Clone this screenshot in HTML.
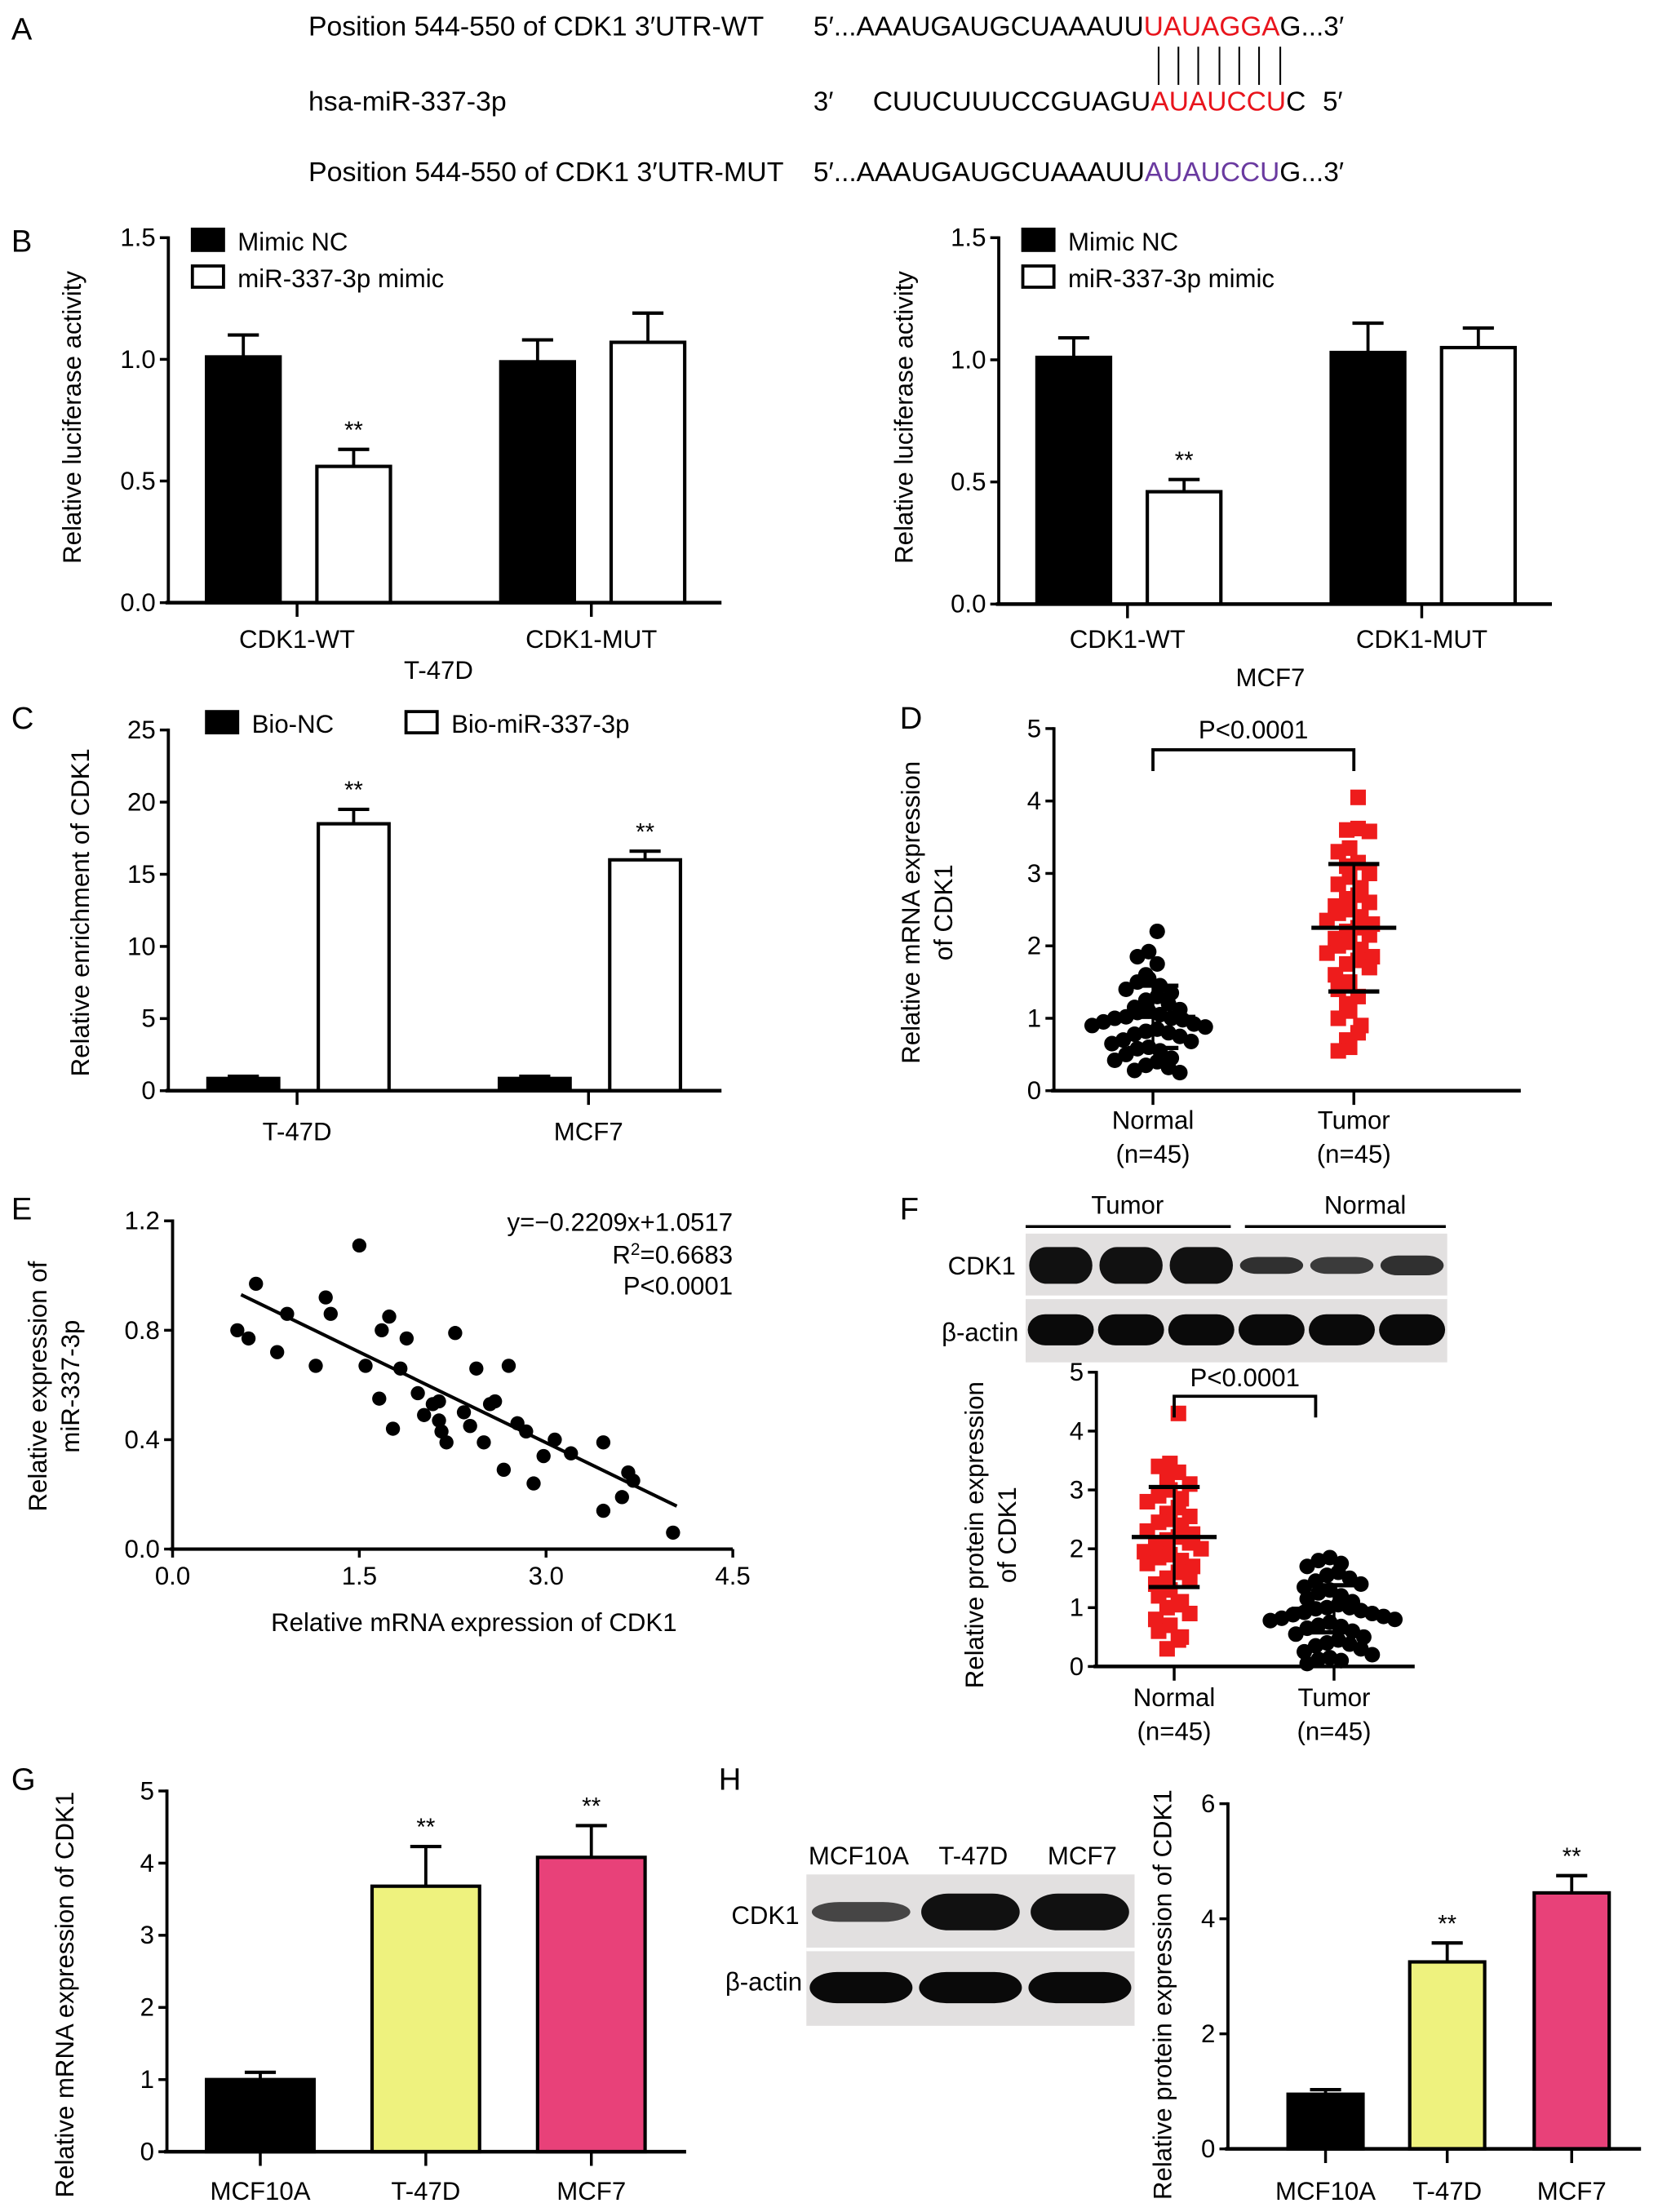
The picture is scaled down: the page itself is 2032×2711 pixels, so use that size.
<!DOCTYPE html>
<html><head><meta charset="utf-8">
<style>
html,body{margin:0;padding:0;background:#fff;}
svg{display:block;font-family:"Liberation Sans",sans-serif;}
</style></head>
<body>
<svg id="fig" xmlns="http://www.w3.org/2000/svg" width="2032" height="2711" viewBox="0 0 1172 1563.6">
<rect x="0" y="0" width="1172" height="1564" fill="#fff"/>
<!-- Panel A -->
<g font-size="19">
<text x="8" y="28" font-size="22">A</text>
<text x="218" y="25" textLength="322" lengthAdjust="spacingAndGlyphs">Position 544-550 of CDK1 3′UTR-WT</text>
<text x="575" y="25" textLength="375" lengthAdjust="spacingAndGlyphs">5′...AAAUGAUGCUAAAUU<tspan fill="#e8141c">UAUAGGA</tspan>G...3′</text>
<g stroke="#000" stroke-width="1.2">
<line x1="819" y1="33" x2="819" y2="60"/><line x1="833" y1="33" x2="833" y2="60"/><line x1="847" y1="33" x2="847" y2="60"/><line x1="862" y1="33" x2="862" y2="60"/><line x1="876" y1="33" x2="876" y2="60"/><line x1="890" y1="33" x2="890" y2="60"/><line x1="905" y1="33" x2="905" y2="60"/>
</g>
<text x="218" y="78" textLength="140" lengthAdjust="spacingAndGlyphs">hsa-miR-337-3p</text>
<text x="575" y="78">3′</text>
<text x="617" y="78" textLength="306" lengthAdjust="spacingAndGlyphs">CUUCUUUCCGUAGU<tspan fill="#e8141c">AUAUCCU</tspan>C</text>
<text x="935" y="78">5′</text>
<text x="218" y="128" textLength="336" lengthAdjust="spacingAndGlyphs">Position 544-550 of CDK1 3′UTR-MUT</text>
<text x="575" y="128" textLength="375" lengthAdjust="spacingAndGlyphs">5′...AAAUGAUGCUAAAUU<tspan fill="#6a3aa0">AUAUCCU</tspan>G...3′</text>
</g>
<g id="charts"></g>
</svg>
<script>
// ---- data ----
const bCategories = ['CDK1-WT','CDK1-MUT'];
const bT47dNC = [1.01, 0.99];
const bT47dNCErr = [0.09, 0.09];
const bT47dMimic = [0.56, 1.07];
const bT47dMimicErr = [0.07, 0.12];
const bMcf7NC = [1.01, 1.03];
const bMcf7NCErr = [0.08, 0.12];
const bMcf7Mimic = [0.46, 1.05];
const bMcf7MimicErr = [0.05, 0.08];
const bTicks = ['0.0','0.5','1.0','1.5'];
const cCategories = ['T-47D','MCF7'];
const cBioNC = [0.85, 0.85];
const cBioNCErr = [0.15, 0.15];
const cBioMir = [18.5, 16.0];
const cBioMirErr = [1.0, 0.6];
const cTicks = [0,5,10,15,20,25];
const dNormal = [2.2,1.92,1.85,1.75,1.6,1.55,1.5,1.45,1.4,1.35,1.3,1.25,1.2,1.15,1.12,1.1,1.08,1.05,1.02,1.0,1.0,0.98,0.95,0.92,0.9,0.88,0.85,0.82,0.8,0.78,0.75,0.7,0.68,0.65,0.6,0.58,0.55,0.5,0.45,0.42,0.4,0.35,0.32,0.28,0.25];
const dTumor = [4.05,3.62,3.6,3.58,3.35,3.3,3.15,3.1,3.0,2.95,2.85,2.8,2.7,2.65,2.6,2.55,2.5,2.45,2.4,2.35,2.3,2.25,2.2,2.15,2.1,2.05,2.0,1.95,1.9,1.85,1.8,1.75,1.7,1.6,1.5,1.4,1.3,1.2,1.1,1.0,0.9,0.8,0.7,0.6,0.55];
const dMeanSD = [[1.02,0.43],[2.25,0.88]];
const dTicks = [0,1,2,3,4,5];
const eX = [0.52,0.61,0.67,0.84,0.92,1.15,1.23,1.27,1.5,1.55,1.66,1.68,1.74,1.77,1.88,2.02,2.09,2.14,2.16,2.2,2.27,2.34,2.39,2.44,2.5,2.55,2.59,2.66,2.7,2.77,2.84,2.9,2.98,3.07,3.2,3.46,3.46,3.61,3.66,3.7,4.02,2.14,1.97,1.83];
const eY = [0.80,0.77,0.97,0.72,0.86,0.67,0.92,0.86,1.11,0.67,0.55,0.80,0.85,0.44,0.77,0.49,0.53,0.54,0.43,0.39,0.79,0.50,0.45,0.66,0.39,0.53,0.54,0.29,0.67,0.46,0.43,0.24,0.34,0.40,0.35,0.39,0.14,0.19,0.28,0.25,0.06,0.47,0.57,0.66];
const eSlope = -0.2209, eIntercept = 1.0517;
const eXTicks = ['0.0','1.5','3.0','4.5'];
const eYTicks = ['0.0','0.4','0.8','1.2'];
const fNormal = [4.3,3.45,3.4,3.3,3.2,3.1,3.0,2.9,2.85,2.8,2.7,2.6,2.55,2.5,2.45,2.4,2.3,2.25,2.2,2.15,2.1,2.05,2.0,1.95,1.9,1.85,1.8,1.75,1.7,1.6,1.5,1.45,1.4,1.3,1.2,1.1,1.05,1.0,0.9,0.8,0.7,0.6,0.5,0.45,0.3];
const fTumor = [1.85,1.8,1.75,1.7,1.6,1.55,1.5,1.45,1.4,1.35,1.3,1.25,1.2,1.15,1.1,1.05,1.0,1.0,0.98,0.95,0.92,0.9,0.88,0.85,0.82,0.8,0.78,0.75,0.7,0.68,0.65,0.6,0.55,0.5,0.45,0.4,0.38,0.35,0.3,0.25,0.2,0.15,0.12,0.1,0.05];
const fMeanSD = [[2.2,0.85],[0.98,0.4]];
const gCategories = ['MCF10A','T-47D','MCF7'];
const gValues = [1.0, 3.68, 4.08];
const gErr = [0.1, 0.55, 0.44];
const gTicks = [0,1,2,3,4,5];
const hValues = [0.95, 3.25, 4.45];
const hErr = [0.08, 0.33, 0.3];
const hTicks = [0,2,4,6];
const barColors = ['#000','#eef27e','#e84179'];

// ---- helpers ----
const NS = 'http://www.w3.org/2000/svg';
const root = document.getElementById('charts');
function el(tag, attrs, parent, txt){
  const e = document.createElementNS(NS, tag);
  for (const k in attrs) e.setAttribute(k, attrs[k]);
  if (txt !== undefined) e.textContent = txt;
  (parent || root).appendChild(e);
  return e;
}
function group(name){
  const g = el('g', {});
  
  
  return g;
}
function yAxis(g, ax, y0, yTop, vmax, ticks, labels){
  const l = el('line', {x1:ax, y1:y0, x2:ax, y2:yTop-1, stroke:'#000','stroke-width':2.2}, g);
  
  
  ticks.forEach((t,i)=>{
    const y = y0 - t/vmax*(y0-yTop);
    const tk = el('line', {x1:ax-6, y1:y, x2:ax, y2:y, stroke:'#000','stroke-width':2}, g);
    
    
    const tx = el('text', {x:ax-9, y:y+6, 'text-anchor':'end', 'font-size':18}, g, labels ? labels[i] : String(t));
    
    
  });
}
function xAxis(g, ax, xEnd, y0, centers, labels, ly){
  const l = el('line', {x1:ax-2, y1:y0, x2:xEnd, y2:y0, stroke:'#000','stroke-width':2.6}, g);
  
  
  centers.forEach((c,i)=>{
    const tk = el('line', {x1:c, y1:y0, x2:c, y2:y0+10, stroke:'#000','stroke-width':2}, g);
    
    
    if (labels){
      const tx = el('text', {x:c, y:ly, 'text-anchor':'middle', 'font-size':18}, g, labels[i]);
      
      
    }
  });
}
function yTitle(g, x, cy, lines){
  lines.forEach((s,i)=>{
    const t = el('text', {x:x+i*23, y:cy, 'text-anchor':'middle', 'font-size':18, transform:`rotate(-90 ${x+i*23} ${cy})`}, g, s);
    
    
  });
}
function bar(g, cx, w, v, err, y0, yTop, vmax, fill, star){
  const sc = v => y0 - v/vmax*(y0-yTop);
  const top = sc(v), et = sc(v+err);
  const ebar = el('line', {x1:cx, y1:top, x2:cx, y2:et, stroke:'#000','stroke-width':2.2}, g);
  
  
  const cap = el('line', {x1:cx-11, y1:et, x2:cx+11, y2:et, stroke:'#000','stroke-width':2.4}, g);
  
  
  const r = el('rect', {x:cx-w/2, y:top, width:w, height:y0-top, fill:fill, stroke:'#000','stroke-width':2.4}, g);
  
  
  if (star){
    const s = el('text', {x:cx, y:et-8, 'text-anchor':'middle', 'font-size':17}, g, '**');
    
    
  }
}
function legendItem(g, x, y, fill, label){
  const r = el('rect', {x:x, y:y, width:22, height:15, fill:fill, stroke:'#000','stroke-width':2.2}, g);
  
  
  const t = el('text', {x:x+32, y:y+15, 'font-size':18}, g, label);
  
  
}
function label(g, x, y, s, size, anchor){
  const t = el('text', {x:x, y:y, 'font-size':size||18, 'text-anchor':anchor||'start'}, g, s);
  
  
  return t;
}

// ---- Panel B ----
function panelB(name, ax, y0, centers, nc, ncErr, mm, mmErr, cell, cellX, cellY, ytx){
  const g = group(name);
  const yTop = 168;
  yAxis(g, ax, y0, yTop, 1.5, [0,0.5,1,1.5], bTicks);
  centers.forEach((c,i)=>{
    bar(g, c-38, 52, nc[i], ncErr[i], y0, yTop, 1.5, '#000', false);
    bar(g, c+40, 52, mm[i], mmErr[i], y0, yTop, 1.5, '#fff', i===0);
  });
  xAxis(g, ax, ax+391, y0, centers, bCategories, 458);
  label(g, cellX, cellY, cell, 18, 'middle');
  legendItem(g, ax+17, 162, '#000', 'Mimic NC');
  legendItem(g, ax+17, 188, '#fff', 'miR-337-3p mimic');
  yTitle(g, ytx, 295, ['Relative luciferase activity']);
}
const gl = group('panel-label-b'); label(gl, 8, 178, 'B', 22);
panelB('panel-b-t47d', 119, 426, [210,418], bT47dNC, bT47dNCErr, bT47dMimic, bT47dMimicErr, 'T-47D', 310, 480, 57);
panelB('panel-b-mcf7', 706, 427, [797,1005], bMcf7NC, bMcf7NCErr, bMcf7Mimic, bMcf7MimicErr, 'MCF7', 898, 485, 645);

// ---- Panel C ----
(function(){
  const g = group('panel-c');
  label(g, 8, 515, 'C', 22);
  const ax=119, y0=771, yTop=516;
  yAxis(g, ax, y0, yTop, 25, cTicks);
  const centers=[210,416];
  centers.forEach((c,i)=>{
    bar(g, c-38, 50, cBioNC[i], cBioNCErr[i], y0, yTop, 25, '#000', false);
    bar(g, c+40, 50, cBioMir[i], cBioMirErr[i], y0, yTop, 25, '#fff', true);
  });
  xAxis(g, ax, 510, y0, centers, cCategories, 806);
  legendItem(g, 146, 503, '#000', 'Bio-NC');
  legendItem(g, 287, 503, '#fff', 'Bio-miR-337-3p');
  yTitle(g, 63, 645, ['Relative enrichment of CDK1']);
})();

// ---- scatter helper ----
function swarm(g, vals, cx, y0, yTop, vmax, shape, color){
  const sc = v => y0 - v/vmax*(y0-yTop);
  const bins = {};
  vals.forEach(v=>{
    const b = Math.round(sc(v)/12);
    bins[b] = (bins[b]||0)+1;
    const k = bins[b]-1;
    const off = (k%2===0 ? 1 : -1) * Math.ceil(k/2) * 8 + ((b%2)?3:-3);
    const y = sc(v);
    let m;
    if (shape==='circle') m = el('circle', {cx:cx+off, cy:y, r:5.5, fill:color}, g);
    else m = el('rect', {x:cx+off-5.5, y:y-5.5, width:11, height:11, fill:color}, g);
    
    
  });
}
function meanSD(g, cx, ms, y0, yTop, vmax){
  const sc = v => y0 - v/vmax*(y0-yTop);
  const [m,s] = ms;
  const v = el('line', {x1:cx, y1:sc(m+s), x2:cx, y2:sc(m-s), stroke:'#000','stroke-width':2}, g);
  
  
  [[m+s,18],[m,30],[m-s,18]].forEach(([val,hw])=>{
    const l = el('line', {x1:cx-hw, y1:sc(val), x2:cx+hw, y2:sc(val), stroke:'#000','stroke-width':3}, g);
    
    
  });
}
function bracket(g, x1, x2, y, txt, ty){
  const p = el('path', {d:`M${x1} ${y+15} V${y} H${x2} V${y+15}`, fill:'none', stroke:'#000','stroke-width':2.2}, g);
  
  
  label(g, (x1+x2)/2, ty, txt, 18, 'middle');
}

// ---- Panel D ----
(function(){
  const g = group('panel-d');
  label(g, 636, 515, 'D', 22);
  const ax=745, y0=771, yTop=515;
  yAxis(g, ax, y0, yTop, 5, dTicks);
  swarm(g, dNormal, 815, y0, yTop, 5, 'circle', '#000');
  swarm(g, dTumor, 957, y0, yTop, 5, 'square', '#ee1c1c');
  meanSD(g, 815, dMeanSD[0], y0, yTop, 5);
  meanSD(g, 957, dMeanSD[1], y0, yTop, 5);
  xAxis(g, ax, 1075, y0, [815,957], ['Normal','Tumor'], 798);
  label(g, 815, 822, '(n=45)', 18, 'middle');
  label(g, 957, 822, '(n=45)', 18, 'middle');
  bracket(g, 815, 957, 530, 'P<0.0001', 522);
  yTitle(g, 650, 645, ['Relative mRNA expression','of CDK1']);
})();

// ---- Panel E ----
(function(){
  const g = group('panel-e');
  label(g, 8, 862, 'E', 22);
  const ax=122, y0=1095, xEnd=518, yTop=863;
  const sx = v => ax + v/4.5*(xEnd-ax);
  const sy = v => y0 - v/1.2*(y0-yTop);
  yAxis(g, ax, y0, yTop, 1.2, [0,0.4,0.8,1.2], eYTicks);
  const xl = el('line', {x1:ax-2, y1:y0, x2:xEnd, y2:y0, stroke:'#000','stroke-width':2.4}, g);
  
  
  [0,1.5,3,4.5].forEach((t,i)=>{
    const tk = el('line', {x1:sx(t), y1:y0, x2:sx(t), y2:y0+6, stroke:'#000','stroke-width':2}, g);
    
    
    label(g, sx(t), y0+25, eXTicks[i], 18, 'middle');
  });
  eX.forEach((x,i)=>{
    const c = el('circle', {cx:sx(x), cy:sy(eY[i]), r:5, fill:'#000'}, g);
    
    
  });
  const x1=0.55, x2=4.05;
  const rl = el('line', {x1:sx(x1), y1:sy(eSlope*x1+eIntercept), x2:sx(x2), y2:sy(eSlope*x2+eIntercept), stroke:'#000','stroke-width':2.4}, g);
  
  
  label(g, 518, 870, 'y=−0.2209x+1.0517', 18, 'end');
  const r2 = label(g, 518, 893, 'R', 18, 'end');
  r2.innerHTML = 'R<tspan dy="-6" font-size="12">2</tspan><tspan dy="6">=0.6683</tspan>';
  label(g, 518, 915, 'P<0.0001', 18, 'end');
  label(g, 335, 1153, 'Relative mRNA expression of CDK1', 18, 'middle');
  yTitle(g, 33, 980, ['Relative expression of','miR-337-3p']);
})();

// ---- blot helper ----
function blot(g, x, y, w, h, sep, lanes, strengths, name){
  const b = el('rect', {x:x, y:y, width:w, height:h, fill:'#e2e0e0'}, g);
  
  
  const s = el('line', {x1:x, y1:sep, x2:x+w, y2:sep, stroke:'#fff','stroke-width':2.5}, g);
  
  
  const lw = w/lanes;
  for (let i=0;i<lanes;i++){
    const cx = x+lw*(i+0.5);
    const st = strengths[i];
    const top = el('rect', {x:cx-lw*0.45, y:(y+sep)/2-st[0], width:lw*0.9, height:2*st[0], rx:lw*0.25, ry:st[0], fill:'#111', opacity:st[1]}, g);
    
    
    const bot = el('rect', {x:cx-lw*0.47, y:(sep+y+h)/2-11, width:lw*0.94, height:22, rx:lw*0.25, ry:11, fill:'#0a0a0a'}, g);
    
    
  }
}

// ---- Panel F ----
(function(){
  const g = group('panel-f');
  label(g, 636, 862, 'F', 22);
  label(g, 797, 858, 'Tumor', 18, 'middle');
  label(g, 965, 858, 'Normal', 18, 'middle');
  const l1 = el('line', {x1:725, y1:867, x2:870, y2:867, stroke:'#000','stroke-width':2}, g);
   
  const l2 = el('line', {x1:880, y1:867, x2:1022, y2:867, stroke:'#000','stroke-width':2}, g);
   
  blot(g, 725, 872, 298, 91, 917, 6, [[13,1],[13,1],[13,1],[6,0.85],[6,0.8],[7,0.85]], 'western-blot-f');
  label(g, 718, 901, 'CDK1', 18, 'end');
  label(g, 720, 948, 'β-actin', 18, 'end');
  const ax=775, y0=1178, yTop=970;
  yAxis(g, ax, y0, yTop, 5, dTicks);
  swarm(g, fNormal, 830, y0, yTop, 5, 'square', '#ee1c1c');
  swarm(g, fTumor, 943, y0, yTop, 5, 'circle', '#000');
  meanSD(g, 830, fMeanSD[0], y0, yTop, 5);
  meanSD(g, 943, fMeanSD[1], y0, yTop, 5);
  xAxis(g, ax, 1000, y0, [830,943], ['Normal','Tumor'], 1206);
  label(g, 830, 1230, '(n=45)', 18, 'middle');
  label(g, 943, 1230, '(n=45)', 18, 'middle');
  bracket(g, 830, 930, 987, 'P<0.0001', 980);
  yTitle(g, 695, 1085, ['Relative protein expression','of CDK1']);
})();

// ---- Panel G ----
(function(){
  const g = group('panel-g');
  label(g, 8, 1265, 'G', 22);
  const ax=118, y0=1521, yTop=1266;
  yAxis(g, ax, y0, yTop, 5, gTicks);
  const centers=[184,301,418];
  centers.forEach((c,i)=> bar(g, c, 76, gValues[i], gErr[i], y0, yTop, 5, barColors[i], i>0));
  xAxis(g, ax, 485, y0, centers, gCategories, 1555);
  yTitle(g, 52, 1410, ['Relative mRNA expression of CDK1']);
})();

// ---- Panel H ----
(function(){
  const g = group('panel-h');
  label(g, 508, 1265, 'H', 22);
  label(g, 607, 1318, 'MCF10A', 18, 'middle');
  label(g, 688, 1318, 'T-47D', 18, 'middle');
  label(g, 765, 1318, 'MCF7', 18, 'middle');
  blot(g, 570, 1325, 232, 107, 1378, 3, [[7,0.75],[13,1],[13,1]], 'western-blot-h');
  label(g, 565, 1360, 'CDK1', 18, 'end');
  label(g, 567, 1407, 'β-actin', 18, 'end');
  const ax=868, y0=1519, yTop=1275;
  yAxis(g, ax, y0, yTop, 6, hTicks);
  const centers=[937,1023,1111];
  centers.forEach((c,i)=> bar(g, c, 53, hValues[i], hErr[i], y0, yTop, 6, barColors[i], i>0));
  xAxis(g, ax, 1160, y0, centers, gCategories, 1555);
  yTitle(g, 828, 1410, ['Relative protein expression of CDK1']);
})();
</script>
</body></html>
